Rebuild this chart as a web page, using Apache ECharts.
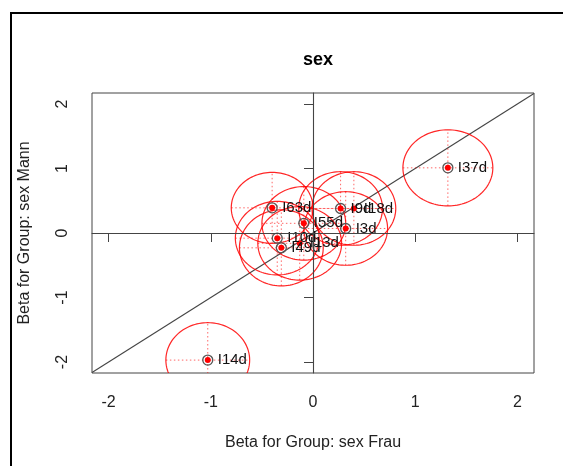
<!DOCTYPE html>
<html>
<head>
<meta charset="utf-8">
<script src="https://cdn.jsdelivr.net/npm/echarts@6/dist/echarts.min.js"></script>
<style>html,body{margin:0;padding:0;background:#fff}#c{width:563px;height:466px}</style>
</head>
<body>
<div id="c"></div>
<script>
var labels   = ['I63d','I9d','I18d','I55d','I3d','I10d','I13d','I49d','I37d','I14d'];
var betaFrau = [-0.40, 0.27, 0.40, -0.09, 0.32, -0.35, -0.13, -0.31, 1.32, -1.03];
var betaMann = [0.39, 0.38, 0.38, 0.15, 0.07, -0.08, -0.16, -0.23, 1.01, -1.97];
var seFrau   = [0.40, 0.41, 0.41, 0.41, 0.41, 0.41, 0.41, 0.41, 0.44, 0.41];
var seMann   = [0.55, 0.57, 0.57, 0.57, 0.57, 0.57, 0.57, 0.59, 0.59, 0.58];
var ringed   = [1, 1, 0, 1, 1, 1, 0, 1, 1, 1];
var tickVals = [-2, -1, 0, 1, 2];
var xLim = [-2.163, 2.163];
var yLim = [-2.17, 2.17];

var FONT = '"Liberation Sans", Arial, Helvetica, sans-serif';

var ellData = labels.map(function (l, i) { return [betaFrau[i], betaMann[i], seFrau[i], seMann[i]]; });
var ptData = labels.map(function (l, i) { return [betaFrau[i], betaMann[i]]; });
var ringData = [];
labels.forEach(function (l, i) { if (ringed[i]) ringData.push([betaFrau[i], betaMann[i]]); });

function renderEllipse(params, api) {
  var cx = api.value(0), cy = api.value(1), rx = api.value(2), ry = api.value(3);
  var pts = [];
  for (var k = 0; k <= 120; k++) {
    var t = k / 120 * Math.PI * 2;
    pts.push(api.coord([cx + rx * Math.cos(t), cy + ry * Math.sin(t)]));
  }
  var h0 = api.coord([cx - rx, cy]), h1 = api.coord([cx + rx, cy]);
  var v0 = api.coord([cx, cy - ry]), v1 = api.coord([cx, cy + ry]);
  var dotted = { stroke: 'rgba(255,0,0,0.6)', lineWidth: 1, lineDash: [1.5, 2.5], fill: null };
  return {
    type: 'group',
    children: [
      { type: 'polyline', shape: { points: pts }, style: { stroke: 'rgba(255,0,0,0.85)', lineWidth: 1.2, fill: null } },
      { type: 'line', shape: { x1: h0[0], y1: h0[1], x2: h1[0], y2: h1[1] }, style: dotted },
      { type: 'line', shape: { x1: v0[0], y1: v0[1], x2: v1[0], y2: v1[1] }, style: dotted }
    ]
  };
}

function renderRing(params, api) {
  var p = api.coord([api.value(0), api.value(1)]);
  return { type: 'circle', shape: { cx: p[0], cy: p[1], r: 5 }, style: { fill: null, stroke: '#555', lineWidth: 1.3 } };
}

var chart = echarts.init(document.getElementById('c'), null, { renderer: 'canvas' });
chart.setOption({
  animation: false,
  backgroundColor: '#fff',
  title: {
    text: 'sex', left: 313, top: 46, textAlign: 'center',
    textStyle: { fontFamily: FONT, fontSize: 18, fontWeight: 'bold', color: '#000' }
  },
  graphic: [{
    type: 'rect', shape: { x: 11, y: 13, width: 700, height: 600 },
    style: { fill: null, stroke: '#000', lineWidth: 2 }, silent: true, z: 100
  }],
  grid: { left: 92, right: 29, top: 93, bottom: 93, show: true, borderColor: '#444', borderWidth: 1, containLabel: false },
  xAxis: {
    type: 'value', min: xLim[0], max: xLim[1],
    name: 'Beta for Group: sex Frau', nameLocation: 'middle', nameGap: 62,
    nameTextStyle: { fontFamily: FONT, fontSize: 16, color: '#222' },
    axisLine: { show: true, lineStyle: { color: '#444', width: 1 } },
    axisTick: { show: true, length: 9, customValues: tickVals, lineStyle: { color: '#444' } },
    axisLabel: { customValues: tickVals, margin: 22, fontFamily: FONT, fontSize: 16, color: '#222' },
    splitLine: { show: false }
  },
  yAxis: {
    type: 'value', min: yLim[0], max: yLim[1],
    name: 'Beta for Group: sex Mann', nameLocation: 'middle', nameGap: 59,
    nameTextStyle: { fontFamily: FONT, fontSize: 16, color: '#222' },
    axisLine: { show: true, lineStyle: { color: '#444', width: 1 } },
    axisTick: { show: true, length: 9, customValues: tickVals, lineStyle: { color: '#444' } },
    axisLabel: { customValues: tickVals, rotate: 90, margin: 21, fontFamily: FONT, fontSize: 16, color: '#222' },
    splitLine: { show: false }
  },
  series: [
    {
      type: 'line', data: [[xLim[0], xLim[0]], [xLim[1], xLim[1]]],
      symbol: 'none', silent: true, clip: true, z: 1,
      lineStyle: { color: '#444', width: 1.1 },
      markLine: {
        silent: true, symbol: 'none', label: { show: false },
        lineStyle: { color: '#444', width: 1.1, type: 'solid' },
        data: [{ xAxis: 0 }, { yAxis: 0 }]
      }
    },
    {
      type: 'custom', data: ellData, renderItem: renderEllipse, clip: true, silent: true, z: 2
    },
    {
      type: 'custom', data: ringData, renderItem: renderRing, clip: true, silent: true, z: 3
    },
    {
      type: 'scatter', data: ptData, symbol: 'circle', symbolSize: 6, silent: true, z: 4,
      itemStyle: { color: '#ff0000', opacity: 1 },
      label: {
        show: true, position: 'right', distance: 7,
        formatter: function (p) { return labels[p.dataIndex]; },
        fontFamily: FONT, fontSize: 15, color: '#111'
      },
      labelLayout: { hideOverlap: false }
    }
  ]
});
</script>
</body>
</html>
